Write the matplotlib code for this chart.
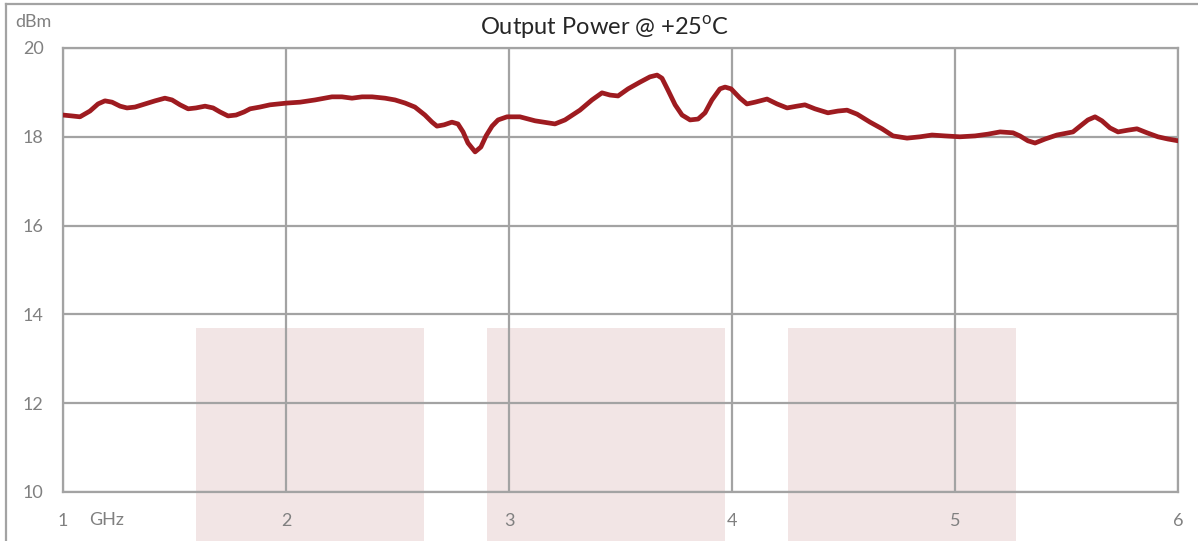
import matplotlib
matplotlib.use("Agg")
import matplotlib.pyplot as plt
from matplotlib.patches import Rectangle
from matplotlib.lines import Line2D

# 读取自图表的数据 (GHz, dBm)
freq_ghz = [1.000, 1.040, 1.076, 1.121, 1.157, 1.188, 1.220, 1.256, 1.287, 1.323,
            1.368, 1.413, 1.457, 1.489, 1.525, 1.561, 1.596, 1.637, 1.673, 1.704,
            1.740, 1.776, 1.812, 1.839, 1.883, 1.928, 2.004, 2.063, 2.130, 2.206,
            2.251, 2.296, 2.341, 2.386, 2.444, 2.489, 2.534, 2.578, 2.623, 2.655,
            2.677, 2.709, 2.744, 2.771, 2.794, 2.816, 2.848, 2.874, 2.897, 2.924,
            2.951, 2.991, 3.049, 3.117, 3.206, 3.251, 3.318, 3.372, 3.417, 3.453,
            3.489, 3.534, 3.587, 3.632, 3.664, 3.686, 3.713, 3.745, 3.776, 3.812,
            3.848, 3.879, 3.910, 3.946, 3.969, 3.996, 4.036, 4.067, 4.103, 4.157,
            4.202, 4.247, 4.291, 4.327, 4.372, 4.430, 4.475, 4.516, 4.561, 4.619,
            4.673, 4.722, 4.785, 4.843, 4.897, 4.955, 5.022, 5.090, 5.148, 5.202,
            5.260, 5.291, 5.327, 5.359, 5.404, 5.457, 5.529, 5.561, 5.596, 5.628,
            5.659, 5.695, 5.731, 5.776, 5.816, 5.861, 5.910, 5.955, 6.000]
power_dbm = [18.49, 18.47, 18.45, 18.58, 18.74, 18.81, 18.78, 18.69, 18.65, 18.67,
             18.74, 18.81, 18.87, 18.83, 18.72, 18.63, 18.65, 18.69, 18.65, 18.56,
             18.47, 18.49, 18.56, 18.63, 18.67, 18.72, 18.76, 18.78, 18.83, 18.90,
             18.90, 18.87, 18.90, 18.90, 18.87, 18.83, 18.76, 18.67, 18.49, 18.33,
             18.24, 18.27, 18.33, 18.29, 18.11, 17.86, 17.66, 17.77, 18.02, 18.24,
             18.38, 18.45, 18.45, 18.36, 18.29, 18.38, 18.60, 18.83, 18.99, 18.94,
             18.92, 19.08, 19.23, 19.35, 19.39, 19.32, 19.05, 18.72, 18.49, 18.38,
             18.40, 18.54, 18.83, 19.08, 19.12, 19.08, 18.87, 18.74, 18.78, 18.85,
             18.74, 18.65, 18.69, 18.72, 18.63, 18.54, 18.58, 18.60, 18.51, 18.33,
             18.18, 18.02, 17.97, 18.00, 18.04, 18.02, 18.00, 18.02, 18.06, 18.11,
             18.09, 18.02, 17.91, 17.86, 17.95, 18.04, 18.11, 18.24, 18.38, 18.45,
             18.36, 18.20, 18.11, 18.15, 18.18, 18.09, 18.00, 17.95, 17.91]

x_ticks = [1, 2, 3, 4, 5, 6]
x_tick_labels = ["1", "2", "3", "4", "5", "6"]
y_ticks = [10, 12, 14, 16, 18, 20]
y_tick_labels = ["10", "12", "14", "16", "18", "20"]

title = r"Output Power @ +25$^{\mathrm{o}}$C"
x_unit = "GHz"
y_unit = "dBm"

plt.rcParams["font.family"] = ["Lato", "DejaVu Sans"]
plt.rcParams["mathtext.fontset"] = "custom"
plt.rcParams["mathtext.rm"] = "Lato"

GRID = "#a3a3a3"
LABEL = "#808080"
LINE = "#9e1b20"
PINK = "#f2e5e5"

fig = plt.figure(figsize=(11.98, 5.41), dpi=100)
ax = fig.add_axes([63 / 1198, 49 / 541, 1115 / 1198, 444 / 541])
ax.patch.set_alpha(0)

# 背景的浅粉色方块
for x0, w in [(196, 228), (487, 238), (788, 228)]:
    fig.patches.append(Rectangle((x0 / 1198, 0), w / 1198, 213 / 541,
                                 transform=fig.transFigure, facecolor=PINK,
                                 edgecolor="none", zorder=-10))

# 外框
fig.lines.append(Line2D([6 / 1198, 6 / 1198], [0, 1 - 4 / 541],
                        transform=fig.transFigure, color=GRID, lw=1.6))
fig.lines.append(Line2D([6 / 1198, 1], [1 - 4 / 541, 1 - 4 / 541],
                        transform=fig.transFigure, color=GRID, lw=1.6))

ax.plot(freq_ghz, power_dbm, color=LINE, lw=3.4, solid_joinstyle="round",
        solid_capstyle="round", zorder=5)

ax.set_xlim(1, 6)
ax.set_ylim(10, 20)
ax.set_xticks(x_ticks)
ax.set_xticklabels(x_tick_labels)
ax.set_yticks(y_ticks)
ax.set_yticklabels(y_tick_labels)
ax.tick_params(axis="both", length=0, labelsize=13, labelcolor=LABEL)
ax.tick_params(axis="x", pad=15)
ax.tick_params(axis="y", pad=14)
ax.grid(True, color=GRID, lw=1.6)
for s in ax.spines.values():
    s.set_color(GRID)
    s.set_linewidth(1.6)

fig.text(107 / 1198, 1 - 520 / 541, x_unit, ha="center", va="center",
         fontsize=13, color=LABEL)
fig.text(33 / 1198, 1 - 22 / 541, y_unit, ha="center", va="center",
         fontsize=13, color=LABEL)
fig.text(605 / 1198, 1 - 28 / 541, title, ha="center", va="center",
         fontsize=17, color="#262626")

fig.savefig("out.png", dpi=100)
